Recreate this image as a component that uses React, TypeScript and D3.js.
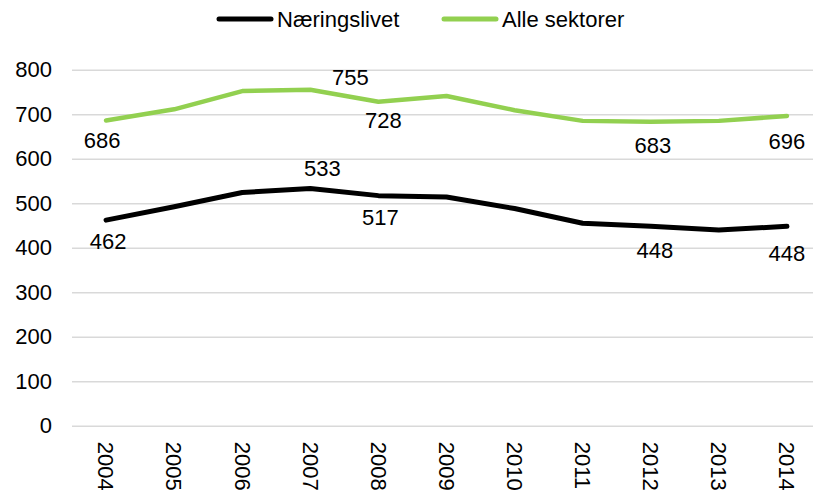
import { useEffect, useRef } from 'react';
import * as d3 from 'd3';

const years = ['2004', '2005', '2006', '2007', '2008', '2009', '2010', '2011', '2012', '2013', '2014'];
const naeringslivet = [462, 492, 524, 533, 517, 514, 488, 455, 448, 440, 448];
const alleSektorer = [686, 711, 752, 755, 728, 741, 709, 685, 683, 685, 696];
const yTicks = [0, 100, 200, 300, 400, 500, 600, 700, 800];

// which points carry a value label
const naeringLabels = [0, 3, 4, 8, 10];
const alleLabels = [0, 3, 4, 8, 10];

// label offsets from the point (dx, dy to text centre)
const naeringOffsets = [[2, 21], [12, -20], [2, 21], [4, 24], [0, 27]];
const alleOffsets = [[-4, 20], [40, -13], [5, 18], [2, 23], [0, 25]];

const App = () => {
    const svgRef = useRef(null);

    useEffect(() => {
        document.body.style.margin = '0';
        const W = 813;
        const H = 495;
        const font = '"Liberation Sans", Arial, sans-serif';

        const svg = d3.select(svgRef.current);
        svg.selectAll('*').remove();
        svg.attr('width', W).attr('height', H).style('font-family', font);

        // Skalaer
        const x = d3.scaleBand().domain(years).range([72, 821]).padding(0);
        const cx = (d) => x(d) + x.bandwidth() / 2;
        const y = d3.scaleLinear().domain([0, 800]).range([425.7, 69.7]);

        // Y-akse med rutenett
        const yAxis = svg.append('g')
            .attr('transform', 'translate(72,0)')
            .call(d3.axisLeft(y).tickValues(yTicks).tickSize(-760).tickPadding(20));
        yAxis.select('.domain').remove();
        yAxis.selectAll('line').attr('stroke', '#d9d9d9').attr('stroke-width', 1.5);
        yAxis.selectAll('text')
            .style('font-family', font)
            .style('font-size', '22px')
            .attr('fill', '#000');

        // X-akse
        const xAxis = svg.append('g')
            .attr('transform', `translate(0,${y(0)})`)
            .call(d3.axisBottom(x).tickSize(0));
        xAxis.select('.domain').remove();
        xAxis.selectAll('text')
            .style('font-family', font)
            .style('font-size', '22px')
            .attr('fill', '#000')
            .attr('transform', 'rotate(90)')
            .attr('x', 16)
            .attr('y', 0)
            .attr('dy', '0.35em')
            .style('text-anchor', 'start');

        const line = d3.line()
            .x((d, i) => cx(years[i]))
            .y(d => y(d));

        const series = [
            { values: alleSektorer, color: '#92d050', width: 4.5, labels: alleLabels, offsets: alleOffsets },
            { values: naeringslivet, color: '#000000', width: 5, labels: naeringLabels, offsets: naeringOffsets },
        ];

        series.forEach(s => {
            svg.append('path')
                .datum(s.values)
                .attr('fill', 'none')
                .attr('stroke', s.color)
                .attr('stroke-width', s.width)
                .attr('stroke-linejoin', 'round')
                .attr('stroke-linecap', 'round')
                .attr('d', line);

            svg.selectAll(null)
                .data(s.labels)
                .enter().append('text')
                .attr('x', (d, k) => cx(years[d]) + s.offsets[k][0])
                .attr('y', (d, k) => y(s.values[d]) + s.offsets[k][1])
                .attr('dy', '0.36em')
                .style('text-anchor', 'middle')
                .style('font-size', '22px')
                .attr('fill', '#000')
                .text(d => s.values[d]);
        });

        // Legende
        const legendItems = [
            { name: 'Næringslivet', color: '#000000', x: 217 },
            { name: 'Alle sektorer', color: '#92d050', x: 442 },
        ];
        const legend = svg.selectAll('.legend')
            .data(legendItems)
            .enter().append('g')
            .attr('class', 'legend')
            .attr('transform', d => `translate(${d.x},19)`);

        legend.append('line')
            .attr('x1', 2)
            .attr('x2', 54)
            .attr('stroke', d => d.color)
            .attr('stroke-width', 5)
            .attr('stroke-linecap', 'round');

        legend.append('text')
            .attr('x', 60)
            .attr('y', 0)
            .attr('dy', '0.36em')
            .style('font-size', '22px')
            .attr('fill', '#000')
            .text(d => d.name);
    }, []);

    return (
        <svg ref={svgRef} style={{ display: 'block' }}></svg>
    );
};

export default App;
